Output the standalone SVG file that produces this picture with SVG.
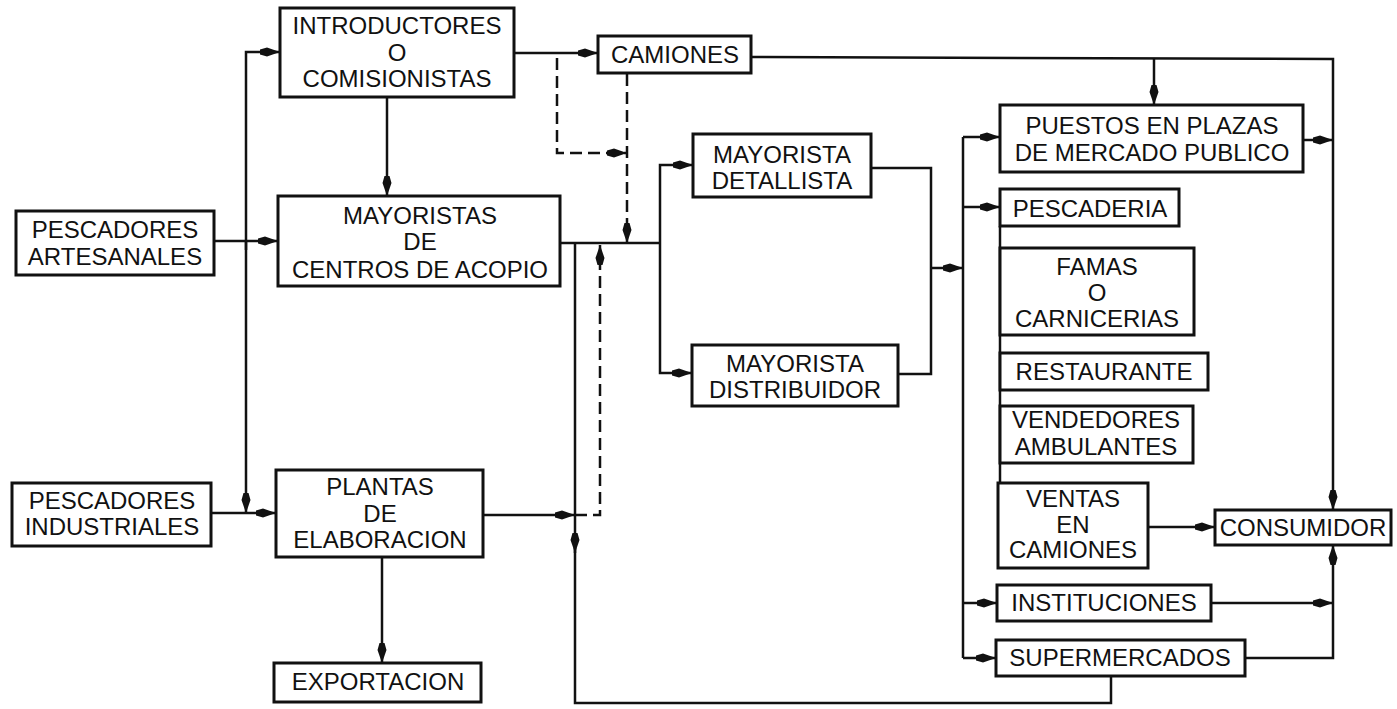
<svg xmlns="http://www.w3.org/2000/svg" width="1397" height="709" viewBox="0 0 1397 709">
<style>
.box{fill:#fff;stroke:#111;stroke-width:3}
.t{font-family:"Liberation Sans",Arial,sans-serif;font-size:24px;fill:#111;text-anchor:middle}
.c{fill:none;stroke:#111;stroke-width:2.5}
.d{fill:none;stroke:#111;stroke-width:2.5;stroke-dasharray:12 6}
.a{marker-end:url(#ah)}
</style>
<defs>
<marker id="ah" viewBox="-22 -6 23 12" refX="0" refY="0" markerWidth="23" markerHeight="12" markerUnits="userSpaceOnUse" orient="auto">
<path d="M0,0 L-13,-4.5 L-20,-2.5 L-20,2.5 L-13,4.5 Z" fill="#111"/>
</marker>
</defs>
<rect width="1397" height="709" fill="#fff"/>
<g id="connectors">
<path class="c a" d="M246,250 L246,52 L280,52"/>
<path class="c a" d="M246,240 L246,513"/>
<path class="c a" d="M214,241 L278,241"/>
<path class="c a" d="M211,513 L276,513"/>
<path class="c a" d="M387,97 L387,196"/>
<path class="c a" d="M514,53 L598,53"/>
<path class="d a" d="M557,58 L557,153 L627,153"/>
<path class="d a" d="M627,74 L627,243"/>
<path class="c" d="M560,243 L660,243"/>
<path class="c a" d="M660,243 L660,165 L693,165"/>
<path class="c a" d="M660,243 L660,373 L692,373"/>
<path class="c a" d="M575,243 L575,553"/>
<path class="c" d="M575,548 L575,703 L1111,703 L1111,676"/>
<path class="c a" d="M483,515 L575,515"/>
<path class="d a" d="M575,515 L600,515 L600,245"/>
<path class="c a" d="M382,557 L382,663"/>
<path class="c" d="M871,168 L931,168 L931,374 L898,374"/>
<path class="c a" d="M931,268 L963,268"/>
<path class="c" d="M963,137 L963,658"/>
<path class="c a" d="M963,137 L1000,137"/>
<path class="c a" d="M963,207 L1000,207"/>
<path class="c a" d="M963,603 L997,603"/>
<path class="c a" d="M963,658 L996,658"/>
<path class="c" d="M1000,226 L1000,483"/>
<path class="c a" d="M1148,527 L1215,527"/>
<path class="c a" d="M751,57 L1333,59 L1333,510"/>
<path class="c a" d="M1154,58 L1154,105"/>
<path class="c a" d="M1303,140 L1333,140"/>
<path class="c a" d="M1211,603 L1333,603"/>
<path class="c a" d="M1245,658 L1333,658 L1333,545"/>
</g>
<g id="introductores"><rect class="box" x="280" y="8" width="234" height="89"/><text class="t" x="397" y="34">INTRODUCTORES</text><text class="t" x="397" y="61">O</text><text class="t" x="397" y="87">COMISIONISTAS</text></g>
<g id="camiones"><rect class="box" x="598" y="36" width="153" height="37"/><text class="t" x="675" y="63">CAMIONES</text></g>
<g id="pescadores-artesanales"><rect class="box" x="16" y="211" width="198" height="64"/><text class="t" x="115" y="238">PESCADORES</text><text class="t" x="115" y="265">ARTESANALES</text></g>
<g id="mayoristas-centros"><rect class="box" x="278" y="196" width="282" height="90"/><text class="t" x="420" y="224">MAYORISTAS</text><text class="t" x="420" y="250">DE</text><text class="t" x="420" y="278">CENTROS DE ACOPIO</text></g>
<g id="pescadores-industriales"><rect class="box" x="12" y="483" width="199" height="63"/><text class="t" x="112" y="509">PESCADORES</text><text class="t" x="112" y="535">INDUSTRIALES</text></g>
<g id="plantas"><rect class="box" x="276" y="470" width="207" height="87"/><text class="t" x="380" y="495">PLANTAS</text><text class="t" x="380" y="522">DE</text><text class="t" x="380" y="548">ELABORACION</text></g>
<g id="exportacion"><rect class="box" x="274" y="663" width="207" height="39"/><text class="t" x="378" y="690">EXPORTACION</text></g>
<g id="mayorista-detallista"><rect class="box" x="693" y="134" width="178" height="63"/><text class="t" x="782" y="163">MAYORISTA</text><text class="t" x="782" y="189">DETALLISTA</text></g>
<g id="mayorista-distribuidor"><rect class="box" x="692" y="345" width="206" height="61"/><text class="t" x="795" y="372">MAYORISTA</text><text class="t" x="795" y="398">DISTRIBUIDOR</text></g>
<g id="puestos"><rect class="box" x="1000" y="105" width="303" height="67"/><text class="t" x="1152" y="134">PUESTOS EN PLAZAS</text><text class="t" x="1152" y="161">DE MERCADO PUBLICO</text></g>
<g id="pescaderia"><rect class="box" x="1000" y="189" width="179" height="37"/><text class="t" x="1090" y="217">PESCADERIA</text></g>
<g id="famas"><rect class="box" x="1000" y="248" width="194" height="87"/><text class="t" x="1097" y="275">FAMAS</text><text class="t" x="1097" y="301">O</text><text class="t" x="1097" y="327">CARNICERIAS</text></g>
<g id="restaurante"><rect class="box" x="1000" y="353" width="208" height="37"/><text class="t" x="1104" y="380">RESTAURANTE</text></g>
<g id="vendedores"><rect class="box" x="1000" y="406" width="193" height="57"/><text class="t" x="1096" y="428">VENDEDORES</text><text class="t" x="1096" y="455">AMBULANTES</text></g>
<g id="ventas-camiones"><rect class="box" x="998" y="483" width="150" height="85"/><text class="t" x="1073" y="507">VENTAS</text><text class="t" x="1073" y="533">EN</text><text class="t" x="1073" y="558">CAMIONES</text></g>
<g id="consumidor"><rect class="box" x="1215" y="510" width="176" height="35"/><text class="t" x="1303" y="536">CONSUMIDOR</text></g>
<g id="instituciones"><rect class="box" x="997" y="585" width="214" height="36"/><text class="t" x="1104" y="611">INSTITUCIONES</text></g>
<g id="supermercados"><rect class="box" x="996" y="640" width="249" height="36"/><text class="t" x="1120" y="666">SUPERMERCADOS</text></g>
</svg>
